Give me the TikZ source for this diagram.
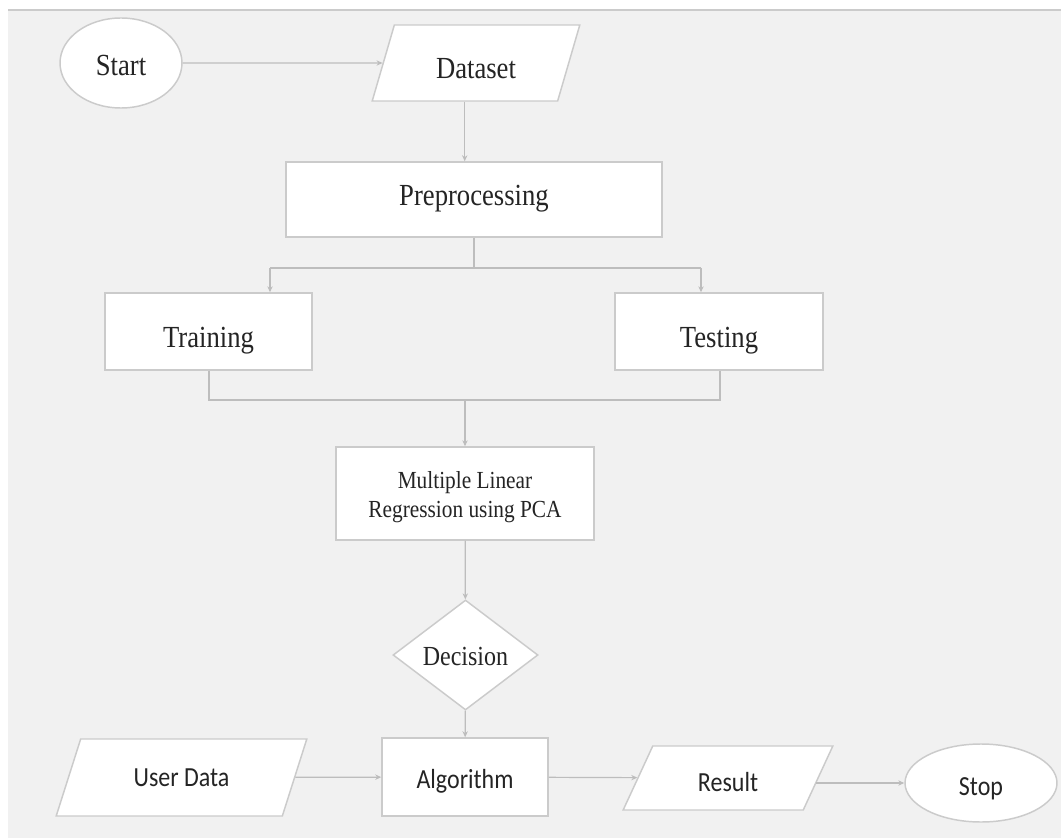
\documentclass[tikz,border=0pt]{standalone}
\usepackage{fontspec}
\usepackage{graphicx}
\setmainfont{Liberation Serif}
\newfontfamily\labelsans{Carlito}
\usetikzlibrary{shapes.geometric,arrows.meta,calc}

\newdimen\px \px=0.75pt
\definecolor{bgc}{HTML}{F1F1F1}
\definecolor{edge}{HTML}{CBCBCB}
\definecolor{conn}{HTML}{BDBDBD}
\definecolor{ink}{HTML}{242424}
% slightly tall lettering, optionally moved down inside its shape
\newcommand\tallt[2][0pt]{\raisebox{-#1}[\height][\depth]{\scalebox{1}[1.15]{#2}}}

\begin{document}
\begin{tikzpicture}[x=0.75pt,y=-0.75pt,
  shapebase/.style={draw=edge, fill=white, line width=1.1pt, inner sep=0pt, text=ink,
                    font=\fontsize{20}{24}\selectfont},
  procbox/.style={shapebase, rectangle},
  terminal/.style={shapebase, ellipse},
  iobox/.style={shapebase, trapezium, trapezium stretches=true},
  choice/.style={shapebase, diamond, aspect=1.3},
  sanslabel/.style={font=\labelsans\fontsize{18}{22}\selectfont},
  arr/.style={draw=conn, line width=0.9pt, -{Stealth[length=4.5pt,width=4pt]}},
  link/.style={draw=conn, line width=0.9pt}]

\useasboundingbox (0,0) rectangle (1061,838);
% page background
\fill[white] (0,0) rectangle (1061,838);
\fill[bgc] (8,10) rectangle (1061,838);
\draw[edge, line width=1pt] (8,10) -- (1061,10);

% nodes
\node[terminal, minimum width=122\px, minimum height=90\px] (start) at (121,63) {\tallt[2pt]{Start}};
\node[iobox, trapezium left angle=62, trapezium right angle=118,
      minimum width=208\px, minimum height=76\px] (data) at (476,63) {\tallt[4pt]{Dataset}};
\node[procbox, minimum width=376\px, minimum height=75\px] (pre) at (474,199.5) {\tallt[-1pt]{Preprocessing}};
\node[procbox, minimum width=207\px, minimum height=77\px] (train) at (208.5,331.5) {\tallt[7pt]{Training}};
\node[procbox, minimum width=208\px, minimum height=77\px] (test) at (719,331.5) {\tallt[7pt]{Testing}};
\node[procbox, minimum width=258\px, minimum height=93\px,
      font=\fontsize{16}{25}\selectfont] (mlr) at (465,493.5)
      {\tallt[1.5pt]{\begin{tabular}{@{}c@{}}Multiple Linear\\[-6pt]Regression using PCA\end{tabular}}};
\node[choice, minimum width=145\px, minimum height=110\px,
      font=\fontsize{18}{22}\selectfont] (dec) at (465.5,655) {\tallt[1pt]{Decision}};
\node[procbox, sanslabel, minimum width=166\px, minimum height=78\px] (algo) at (465,777) {\tallt[3pt]{Algorithm}};
\node[iobox, sanslabel, trapezium left angle=57, trapezium right angle=123,
      minimum width=253\px, minimum height=77\px] (user) at (181.5,777.5) {\tallt{User Data}};
\node[iobox, sanslabel, trapezium left angle=58.6, trapezium right angle=121.4,
      minimum width=210\px, minimum height=64\px] (res) at (728,778) {\tallt[3pt]{Result}};
\node[terminal, sanslabel, minimum width=152\px, minimum height=78\px] (stop) at (981,783) {\tallt[4pt]{Stop}};

% junction points
\coordinate (dataout) at ($(data.bottom left corner)!0.5!(data.bottom right corner)$);
\coordinate (splitL) at (270,268);
\coordinate (splitR) at (701,268);
\coordinate (joinL) at (209,400);
\coordinate (joinR) at (720,400);
\coordinate (joinM) at (465,400);
\coordinate (resout) at ($(stop.west -| res.east)+(-3,0)$);

% connectors
\draw[arr] (start) -- (data);
\draw[arr] (dataout) -- (dataout |- pre.north);
\draw[link] (pre.south) -- (pre.south |- splitL);
\draw[link] (splitL) -- (splitR);
\draw[arr] (splitL) -- (splitL |- train.north);
\draw[arr] (splitR) -- (splitR |- test.north);
\draw[link] (train.south -| joinL) -- (joinL) -- (joinR) -- (test.south -| joinR);
\draw[arr] (joinM) -- (mlr.north);
\draw[arr] (mlr) -- (dec);
\draw[arr] (dec) -- (algo);
\draw[arr] (user) -- (algo);
\draw[arr] (algo) -- (res);
\draw[arr] (resout) -- (stop.west);
\end{tikzpicture}
\end{document}
